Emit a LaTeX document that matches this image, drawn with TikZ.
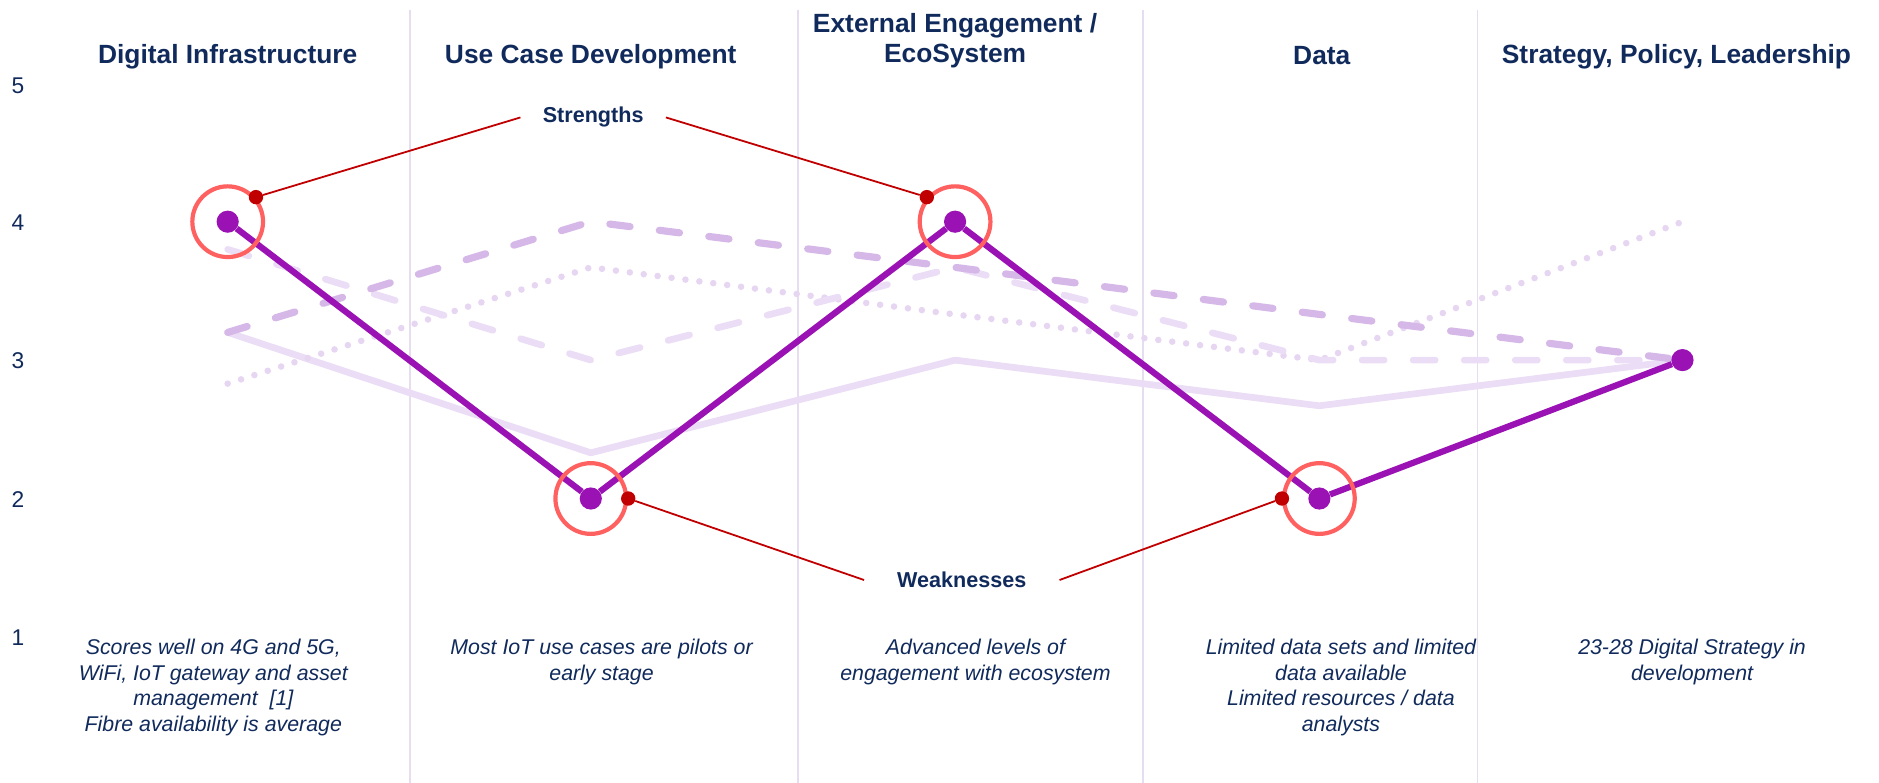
\documentclass[tikz,border=0pt]{standalone}
\usepackage{fontspec}
\setmainfont{Liberation Sans}
\usepackage{tikz}
\usetikzlibrary{shapes, arrows}

\definecolor{navy}{RGB}{16,42,92}
\definecolor{plum}{RGB}{154,18,179}
\definecolor{lav}{RGB}{214,184,232}
\definecolor{lavlight}{RGB}{235,221,245}
\definecolor{lavdot}{RGB}{231,214,242}
\definecolor{rule}{RGB}{230,222,240}
\definecolor{ringred}{RGB}{255,96,96}
\definecolor{darkred}{RGB}{192,0,0}

\begin{document}
\begin{tikzpicture}[x=1pt, y=-1pt,
  head/.style={font=\fontsize{22}{25}\selectfont\bfseries, text=navy, align=center},
  note/.style={font=\fontsize{17.8}{21.4}\selectfont\itshape, text=navy, align=center, anchor=north, inner sep=0pt},
  tag/.style={font=\fontsize{18}{21}\selectfont\bfseries, text=navy, inner ysep=0pt},
  axis/.style={font=\fontsize{19}{22}\selectfont, text=navy},
  divider/.style={draw=rule, line width=1.5pt},
  dot/.style={circle, fill=plum, minimum size=18.5pt, inner sep=0pt},
  ring/.style={circle, draw=ringred, line width=3.5pt, minimum size=59pt, inner sep=0pt},
  reddot/.style={circle, fill=darkred, minimum size=12pt, inner sep=0pt},
  lead/.style={draw=darkred, line width=1.5pt},
  seriesA/.style={draw=lav, line width=6pt, line cap=round, dash pattern=on 17pt off 24.6pt},
  seriesB/.style={draw=lavlight, line width=5.6pt, line cap=round, dash pattern=on 18.4pt off 24.2pt},
  seriesC/.style={draw=lavdot, line width=5.5pt, line cap=round, dash pattern=on 0pt off 11.7pt},
  seriesD/.style={draw=lavlight, line width=5.6pt, line join=round},
  main/.style={draw=plum, line width=5.2pt, line join=round}]
\useasboundingbox (0,0) rectangle (1568,653.4);

% column rules
\draw[divider] (342,8) -- (342,653.4);
\draw[divider] (666,8) -- (666,653.4);
\draw[divider] (954,8) -- (954,653.4);
\draw[divider] (1233,8) -- (1233,653.4);

% headers
\node[head] (h0) at (190,47) {Digital Infrastructure};
\node[head] (h1) at (493,47) {Use Case Development};
\node[head] (h2) at (797,34) {External Engagement /\\EcoSystem};
\node[head] (h3) at (1103,46) {Data};
\node[head] (h4) at (1399,47) {Strategy, Policy, Leadership};

% scale
\node[axis] (y5) at (15,71.5) {5};
\node[axis] (y4) at (15,186) {4};
\node[axis] (y3) at (15,301) {3};
\node[axis] (y2) at (15,416.5) {2};
\node[axis] (y1) at (15,532) {1};

\begin{scope}[yshift=-647pt, y=115.5pt]
% other scores
\draw[seriesD] (190,3.2) -- (493,2.33) -- (797,3) -- (1101,2.67) -- (1404,3);
\draw[seriesC] (190,2.83) -- (493,3.67) -- (797,3.33) -- (1101,3) -- (1404,4);
\draw[seriesB] (190,3.8) -- (493,3) -- (797,3.67) -- (1101,3) -- (1404,3);
\draw[seriesA] (190,3.2) -- (493,4) -- (797,3.67) -- (1101,3.33) -- (1404,3);

\node[dot] (0) at (190,4) {};
\node[dot] (1) at (493,2) {};
\node[dot] (2) at (797,4) {};
\node[dot] (3) at (1101,2) {};
\node[dot] (4) at (1404,3) {};
\end{scope}

\draw[main] (0)--(1)--(2)--(3)--(4);

\node[ring] (r0) at (0) {};
\node[ring] (r1) at (1) {};
\node[ring] (r2) at (2) {};
\node[ring] (r3) at (3) {};

% callouts
\node[tag, inner xsep=18.5pt] (str) at (495,98) {Strengths};
\node[tag, inner xsep=27.5pt] (wk) at (802.6,484) {Weaknesses};
\node[reddot] (s0) at (r0.41) {};
\node[reddot] (s1) at (r2.139) {};
\node[reddot] (w0) at (r1.0) {};
\node[reddot] (w1) at (r3.180) {};
\draw[lead] (s0) -- (str.west);
\draw[lead] (s1) -- (str.east);
\draw[lead] (w0) -- (wk.west);
\draw[lead] (w1) -- (wk.east);

% notes
\node[note] (n0) at (178,533) {Scores well on 4G and 5G,\\WiFi, IoT gateway and asset\\management \ [1]\\Fibre availability is average};
\node[note] (n1) at (502,533) {Most IoT use cases are pilots or\\early stage};
\node[note] (n2) at (814,533) {Advanced levels of\\engagement with ecosystem};
\node[note] (n3) at (1119,533) {Limited data sets and limited\\data available\\Limited resources / data\\analysts};
\node[note] (n4) at (1412,533) {23-28 Digital Strategy in\\development};

\end{tikzpicture}
\end{document}
